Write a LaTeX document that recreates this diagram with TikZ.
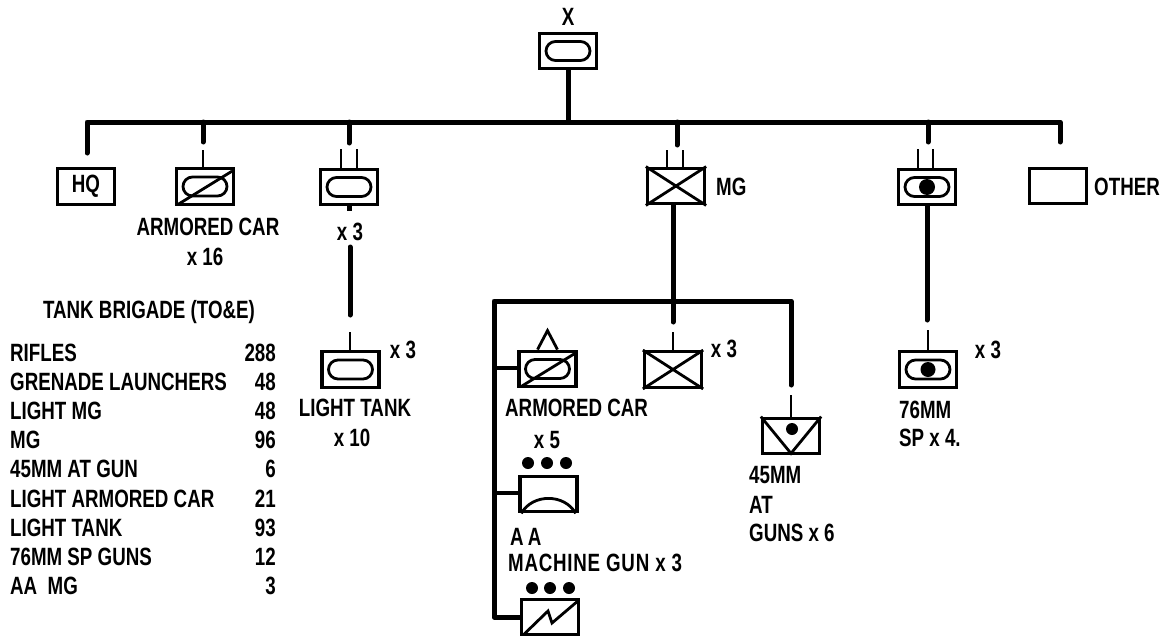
\documentclass[tikz,border=0pt]{standalone}
\usepackage{fontspec}
\setmainfont{Liberation Sans}[FakeStretch=0.75]
\usetikzlibrary{shapes.misc,calc}
\begin{document}
\begin{tikzpicture}[x=1pt,y=-1pt,
  lbl/.style={font=\fontsize{25}{29}\selectfont\bfseries, inner sep=0pt},
  ubox/.style={draw, line width=3.3pt, minimum width=57pt, minimum height=35.5pt, inner sep=0pt, lbl},
  oval/.style={draw, rounded rectangle, line width=2.8pt, minimum width=44pt, minimum height=19pt, inner sep=0pt},
  thk/.style={line width=5pt, line cap=round},
  thn/.style={line width=2pt},
  sym/.style={line width=2.8pt},
  dotn/.style={circle, fill, minimum size=12pt, inner sep=0pt}]
\useasboundingbox (0,0) rectangle (1171,640);

% ---------- boxes ----------
\node[ubox] (top) at (568,51) {};
\node[oval] (topo) at (568,51) {};
\node[lbl] (xlab) at (568,17) {X};

\node[ubox] (hq) at (86,186.5) {HQ};
\node[ubox] (ac) at (205,186.5) {};
\node[oval] (aco) at (205,186.5) {};
\node[ubox] (ltb) at (349,187) {};
\node[oval] (ltbo) at (349,187) {};
\node[ubox] (mgb) at (676,186) {};
\node[ubox] (spb) at (927,187) {};
\node[oval] (spbo) at (927,187) {};
\node[ubox] (oth) at (1058,186) {};

\node[ubox] (ltc) at (350.5,369.5) {};
\node[oval] (ltco) at (350.5,369.5) {};
\node[ubox] (acs) at (547.5,369) {};
\node[oval] (acso) at (547.5,369) {};
\node[ubox] (mgc) at (673,369.5) {};
\node[ubox] (aa) at (548.5,494) {};
\node[ubox] (bot) at (550,617) {};
\node[ubox] (at) at (791,436) {};
\node[ubox] (spc) at (928,369.5) {};
\node[oval] (spco) at (928,369.5) {};

% ---------- inner symbols ----------
\draw[sym] ($(ac.south west)+(4,-2)$) -- ($(ac.north east)+(-3,4)$);
\draw[sym] ($(acs.south west)+(4,-2)$) -- ($(acs.north east)+(-3,4)$);
\draw[sym] ($(acs.north)+(-10,0)$) -- ($(acs.north)+(0,-19)$) -- ($(acs.north)+(10,0)$);
\draw[sym] (mgb.north west) -- (mgb.south east) (mgb.north east) -- (mgb.south west);
\draw[sym] (mgc.north west) -- (mgc.south east) (mgc.north east) -- (mgc.south west);
\draw[sym] (at.north west) -- ($(at.south)+(0,-2)$) -- (at.north east);
\node[dotn, minimum size=12pt] (atd) at ($(at.center)+(1,-7)$) {};
\node[dotn, minimum size=16pt] (spbd) at (spbo.center) {};
\node[dotn, minimum size=15pt] (spcd) at (spco.center) {};
\draw[sym] ($(aa.south west)+(3,0)$) .. controls ($(aa.south west)+(14,-20)$) and ($(aa.south east)+(-14,-20)$) .. ($(aa.south east)+(-3,0)$);
\draw[sym] ($(bot.south west)+(4,-2)$) -- ($(bot.center)+(-2,-6)$) -- ($(bot.center)+(2,6)$) -- ($(bot.north east)+(-3,4)$);

% dots above AA boxes
\node[dotn] (d1) at (528,463) {};
\node[dotn] (d2) at (547,463) {};
\node[dotn] (d3) at (566,463) {};
\node[dotn] (e1) at (532,588) {};
\node[dotn] (e2) at (550,588) {};
\node[dotn] (e3) at (569,588) {};

% ---------- main bus ----------
\coordinate (busM) at (568,122);
\coordinate (hqEnd) at (87,153);
\coordinate (busL) at (87,122);
\coordinate (busR) at (1060,122);
\coordinate (otEnd) at (1060,142);
\draw[thk] (top.south) -- (busM);
\draw[thk, line join=round] (hqEnd) -- (busL) -- (busR) -- (otEnd);

% armored car drop
\coordinate (acA) at (203,122); \coordinate (acB) at (203,142); \coordinate (acC) at (203,150);
\draw[thk] (acA) -- (acB);
\draw[thn] (acC) -- (acC |- ac.north);

% light tank bn drop
\coordinate (ltA) at (349,122); \coordinate (ltB) at (349,143);
\coordinate (ltm1) at (341,149); \coordinate (ltm2) at (357,149);
\draw[thk] (ltA) -- (ltB);
\draw[thn] (ltm1) -- (ltm1 |- ltb.north) (ltm2) -- (ltm2 |- ltb.north);
\coordinate (ltS) at (349,211);
\draw[thk, line cap=butt] (ltb.south) -- (ltS);
\coordinate (ltD1) at (350,247); \coordinate (ltD2) at (350,315); \coordinate (ltD3) at (350,332);
\draw[thk] (ltD1) -- (ltD2);
\draw[thn] (ltD3) -- (ltD3 |- ltc.north);

% MG bn drop
\coordinate (mgA) at (677,122); \coordinate (mgB) at (677,145);
\coordinate (mgm1) at (667,150); \coordinate (mgm2) at (683,150);
\draw[thk] (mgA) -- (mgB);
\draw[thn] (mgm1) -- (mgm1 |- mgb.north) (mgm2) -- (mgm2 |- mgb.north);
\coordinate (mgS) at (673,301);
\draw[thk] (mgb.south -| mgS) -- (mgS);

% sub bus
\coordinate (sbBL) at (494,617);
\coordinate (sbTL) at (494,301);
\coordinate (sbTR) at (791,301);
\coordinate (atA) at (791,385);
\draw[thk, line join=round, line cap=butt] (bot.west) -- (sbBL) -- (sbTL) -- (sbTR) -- (atA);
\draw[thk, line cap=round] (atA) -- ++(0,-1);
\coordinate (atB) at (791,395);
\draw[thn] (atB) -- (at.north);
\coordinate (br1) at (494,367.5);
\draw[line width=4pt] (br1) -- (br1 -| acs.west);
\coordinate (br2) at (494,493);
\draw[line width=4pt] (br2) -- (br2 -| aa.west);
\coordinate (mcA) at (673,322); \coordinate (mcB) at (673,332);
\draw[thk] (mgS) -- (mcA);
\draw[thn] (mcB) -- (mgc.north);

% SP bn drop
\coordinate (spA) at (928,122); \coordinate (spB) at (928,142);
\coordinate (spm1) at (918,149); \coordinate (spm2) at (933,149);
\draw[thk] (spA) -- (spB);
\draw[thn] (spm1) -- (spm1 |- spb.north) (spm2) -- (spm2 |- spb.north);
\coordinate (spC) at (927,320); \coordinate (spD) at (928,330);
\draw[thk] (spb.south -| spC) -- (spC);
\draw[thn] (spD) -- (spc.north);

% ---------- labels ----------
\node[lbl] (acl1) at (208,227) {ARMORED CAR};
\node[lbl] (acl2) at (205,257) {x 16};
\node[lbl] (ltx) at (350,232) {x 3};
\node[lbl, anchor=west] (mgl) at (716,187) {MG};
\node[lbl, anchor=west] (othl) at (1094,187) {OTHER};
\node[lbl] (ltcx) at (403,350) {x 3};
\node[lbl] (ltcl1) at (355,408) {LIGHT TANK};
\node[lbl] (ltcl2) at (352,438) {x 10};
\node[lbl] (mgcx) at (724,349) {x 3};
\node[lbl, anchor=west] (acsl1) at (505,408) {ARMORED CAR};
\node[lbl] (acsl2) at (547,440) {x 5};
\node[lbl, anchor=west] (aal1) at (510,537) {A\,A};
\node[lbl, anchor=west] (aal2) at (508,563) {\addfontfeature{LetterSpace=3}MACHINE GUN x 3};
\node[lbl, anchor=west] (atl1) at (749,475) {45MM};
\node[lbl, anchor=west] (atl2) at (749,505) {AT};
\node[lbl, anchor=west] (atl3) at (749,533) {GUNS x 6};
\node[lbl] (spcx) at (988,350) {x 3};
\node[lbl, anchor=west] (spl1) at (899,410) {76MM};
\node[lbl, anchor=west] (spl2) at (899,438) {SP x 4.};

% ---------- table ----------
\node[lbl] (tt) at (149,312) {TANK BRIGADE (TO\&E)};
\foreach \n/\t/\v [count=\i from 0] in {r1/RIFLES/288, r2/GRENADE LAUNCHERS/48, r3/LIGHT MG/48, r4/MG/96, r5/45MM AT GUN/6, r6/LIGHT ARMORED CAR/21, r7/LIGHT TANK/93, r8/76MM SP GUNS/12, r9/AA\ \ MG/3} {
  \node[lbl, anchor=base west] (\n) at (10,{361+29.2*\i}) {\t};
  \node[lbl, anchor=base east] (\n v) at (276,{361+29.2*\i}) {\v};
}
\end{tikzpicture}
\end{document}
